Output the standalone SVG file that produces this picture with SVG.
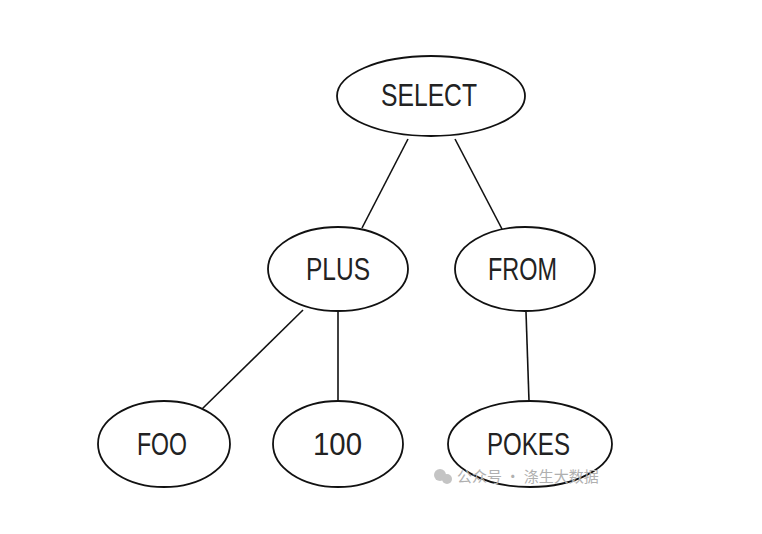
<svg xmlns="http://www.w3.org/2000/svg" width="762" height="534" viewBox="0 0 762 534">
<style>
.node ellipse{fill:#fff;stroke:#111;stroke-width:1.8}
.node text{font-family:"Liberation Sans","DejaVu Sans",sans-serif;font-size:31px;fill:#222;text-anchor:start}
.edges line{stroke:#111;stroke-width:1.6}
.wm{font-family:"Noto Sans CJK SC",sans-serif;font-size:15px;fill:#b0b0b0}
</style>
<rect width="762" height="534" fill="#fff"/>
<g class="edges">
<line x1="408" y1="139" x2="362" y2="228"/>
<line x1="455" y1="139" x2="502" y2="229"/>
<line x1="303" y1="310" x2="201" y2="410"/>
<line x1="338" y1="312" x2="338" y2="402"/>
<line x1="526" y1="312" x2="529" y2="401"/>
</g>
<g id="select" class="node"><ellipse cx="431" cy="96" rx="94" ry="40"/><text x="381" y="106" textLength="96" lengthAdjust="spacingAndGlyphs">SELECT</text></g>
<g id="plus" class="node"><ellipse cx="338" cy="269" rx="70" ry="42"/><text x="306" y="280" textLength="64" lengthAdjust="spacingAndGlyphs">PLUS</text></g>
<g id="from" class="node"><ellipse cx="525" cy="269" rx="70" ry="42"/><text x="488" y="280" textLength="69" lengthAdjust="spacingAndGlyphs">FROM</text></g>
<g id="foo" class="node"><ellipse cx="164" cy="444" rx="66" ry="43"/><text x="137" y="455" textLength="50" lengthAdjust="spacingAndGlyphs">FOO</text></g>
<g id="n100" class="node"><ellipse cx="338" cy="444" rx="65" ry="43"/><text x="313" y="455" textLength="49" lengthAdjust="spacingAndGlyphs">100</text></g>
<g id="pokes" class="node"><ellipse cx="530" cy="444" rx="82" ry="43"/><text x="487" y="455" textLength="83" lengthAdjust="spacingAndGlyphs">POKES</text></g>
<g id="watermark">
<circle cx="440" cy="475" r="6" fill="#c4c4c4"/><circle cx="447" cy="479" r="5" fill="#c4c4c4"/>
<text class="wm" x="457" y="482">公众号 · 涤生大数据</text>
</g>
</svg>
